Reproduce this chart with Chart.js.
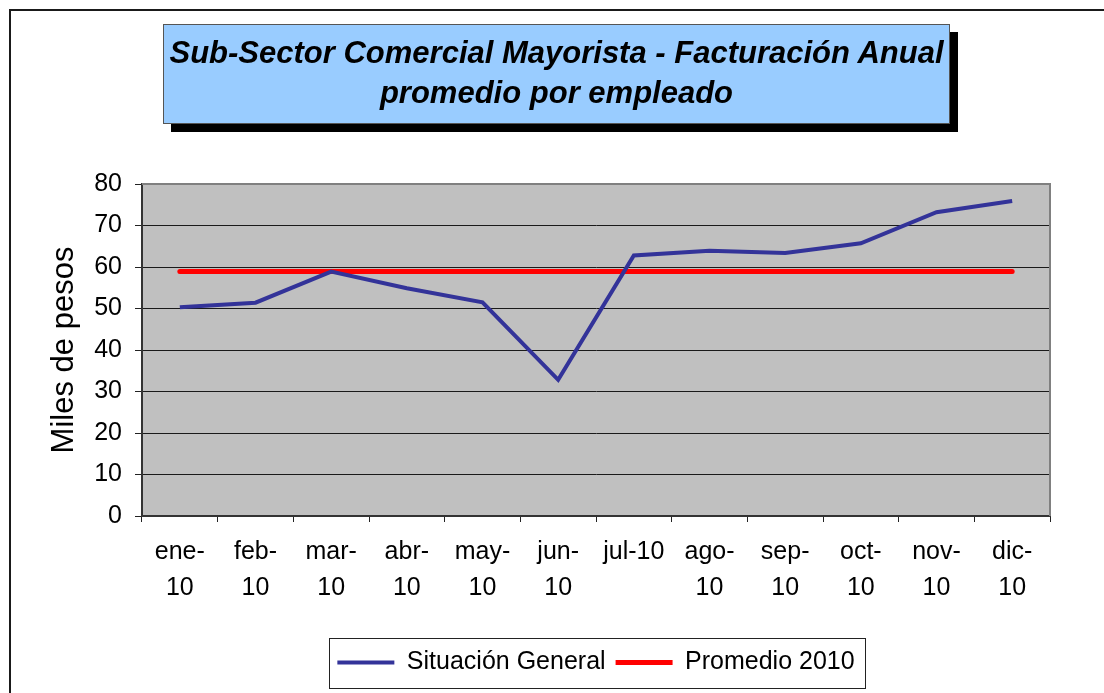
<!DOCTYPE html>
<html>
<head>
<meta charset="utf-8">
<script src="https://cdn.jsdelivr.net/npm/chart.js@4.4.1/dist/chart.umd.min.js"></script>
<style>
    html, body { margin: 0; padding: 0; background: #fff; overflow: hidden; }
    #wrap { position: relative; width: 1104px; height: 693px; overflow: hidden; }
    #frame { position: absolute; left: 9px; top: 9px; width: 1110px; height: 700px; border: 2px solid #1a1a1a; }
    #titleBox {
        position: absolute; left: 163px; top: 24px; width: 785px; height: 90px;
        background: #99ccff; border: 1px solid #555;
        box-shadow: 8px 8px 0 #000;
        font-family: "Liberation Sans", Arial, sans-serif; font-weight: bold; font-style: italic;
        font-size: 31px; line-height: 40px; text-align: center; color: #000;
        padding-top: 8px; box-sizing: content-box;
    }
    #lineGraph { position: absolute; left: 0; top: 0; }
</style>
</head>
<body>
<div id="wrap">
    <div id="frame"></div>
    <canvas id="lineGraph" width="1104" height="693"></canvas>
    <div id="titleBox">Sub-Sector Comercial Mayorista - Facturación Anual<br>promedio por empleado</div>
</div>
<script>
const meses = [['ene-', '10'], ['feb-', '10'], ['mar-', '10'], ['abr-', '10'], ['may-', '10'], ['jun-', '10'],
    'jul-10', ['ago-', '10'], ['sep-', '10'], ['oct-', '10'], ['nov-', '10'], ['dic-', '10']];
const situacionGeneral = [50.3, 51.4, 58.9, 54.9, 51.5, 32.8, 62.8, 63.9, 63.4, 65.7, 73.2, 75.9];
const promedio2010 = [58.9, 58.9, 58.9, 58.9, 58.9, 58.9, 58.9, 58.9, 58.9, 58.9, 58.9, 58.9];

const fontFamily = '"Liberation Sans", Arial, sans-serif';

// gray plot background + gray top/right frame
const plotArea = {
    id: 'plotArea',
    beforeDraw(chart) {
        const a = chart.chartArea;
        const ctx = chart.ctx;
        ctx.save();
        ctx.fillStyle = '#c0c0c0';
        ctx.fillRect(a.left, a.top, a.right - a.left, a.bottom - a.top);
        ctx.restore();
    },
    beforeDatasetsDraw(chart) {
        const a = chart.chartArea;
        const ctx = chart.ctx;
        ctx.save();
        ctx.strokeStyle = '#808080';
        ctx.lineWidth = 2;
        ctx.beginPath();
        ctx.moveTo(a.left, a.top);
        ctx.lineTo(a.right, a.top);
        ctx.lineTo(a.right, a.bottom);
        ctx.stroke();
        ctx.restore();
    }
};

// centre the legend under the plot area and put a box round it
const legendBox = {
    id: 'legendBox',
    afterLayout(chart) {
        chart.legend.left = chart.chartArea.left;
        chart.legend.right = chart.chartArea.right;
    },
    afterDraw(chart) {
        const legend = chart.legend;
        const boxes = legend.legendHitBoxes;
        if (!boxes || !boxes.length) return;
        const first = boxes[0];
        const last = boxes[boxes.length - 1];
        const cy = first.top + first.height / 2;
        const x0 = Math.round(first.left - 8);
        const x1 = Math.round(last.left + last.width + 10);
        const ctx = chart.ctx;
        ctx.save();
        ctx.strokeStyle = '#222';
        ctx.lineWidth = 1;
        ctx.strokeRect(x0 + 0.5, Math.round(cy - 25) + 0.5, x1 - x0, 50);
        ctx.restore();
    }
};

const ctx = document.getElementById('lineGraph').getContext('2d');
const lineGraph = new Chart(ctx, {
    type: 'line',
    data: {
        labels: meses,
        datasets: [{
            label: 'Situación General',
            data: situacionGeneral,
            borderColor: '#333399',
            backgroundColor: '#333399',
            borderWidth: 4,
            pointRadius: 0,
            tension: 0
        }, {
            label: 'Promedio 2010',
            data: promedio2010,
            borderColor: '#ff0000',
            backgroundColor: '#ff0000',
            borderWidth: 5,
            borderCapStyle: 'round',
            pointRadius: 0,
            tension: 0
        }]
    },
    options: {
        responsive: false,
        animation: false,
        layout: { padding: { left: 0, top: 184, right: 54, bottom: 8 } },
        plugins: {
            title: { display: false },
            tooltip: { enabled: false },
            legend: {
                position: 'bottom',
                labels: {
                    usePointStyle: true,
                    pointStyle: 'line',
                    pointStyleWidth: 57,
                    color: '#000',
                    padding: 10,
                    font: { family: fontFamily, size: 25 }
                }
            }
        },
        scales: {
            x: {
                offset: true,
                afterFit(scale) { scale.height = 124; },
                grid: {
                    offset: true,
                    drawOnChartArea: false,
                    drawTicks: true,
                    tickLength: 6,
                    tickColor: '#222',
                    tickWidth: 1
                },
                border: { color: '#333', width: 2 },
                ticks: {
                    color: '#000',
                    maxRotation: 0,
                    autoSkip: false,
                    padding: 12,
                    font: { family: fontFamily, size: 25, lineHeight: 1.44 }
                }
            },
            y: {
                min: 0,
                max: 80,
                afterFit(scale) { scale.width = 142; },
                grid: {
                    color: '#1a1a1a',
                    lineWidth: 1,
                    tickLength: 7,
                    tickColor: '#222'
                },
                border: { color: '#333', width: 2 },
                ticks: {
                    stepSize: 10,
                    color: '#000',
                    padding: 13,
                    font: { family: fontFamily, size: 25 }
                },
                title: {
                    display: true,
                    text: 'Miles de pesos',
                    color: '#000',
                    padding: { top: 46, bottom: 0 },
                    font: { family: fontFamily, size: 31 }
                }
            }
        }
    },
    plugins: [plotArea, legendBox]
});
</script>
</body>
</html>
